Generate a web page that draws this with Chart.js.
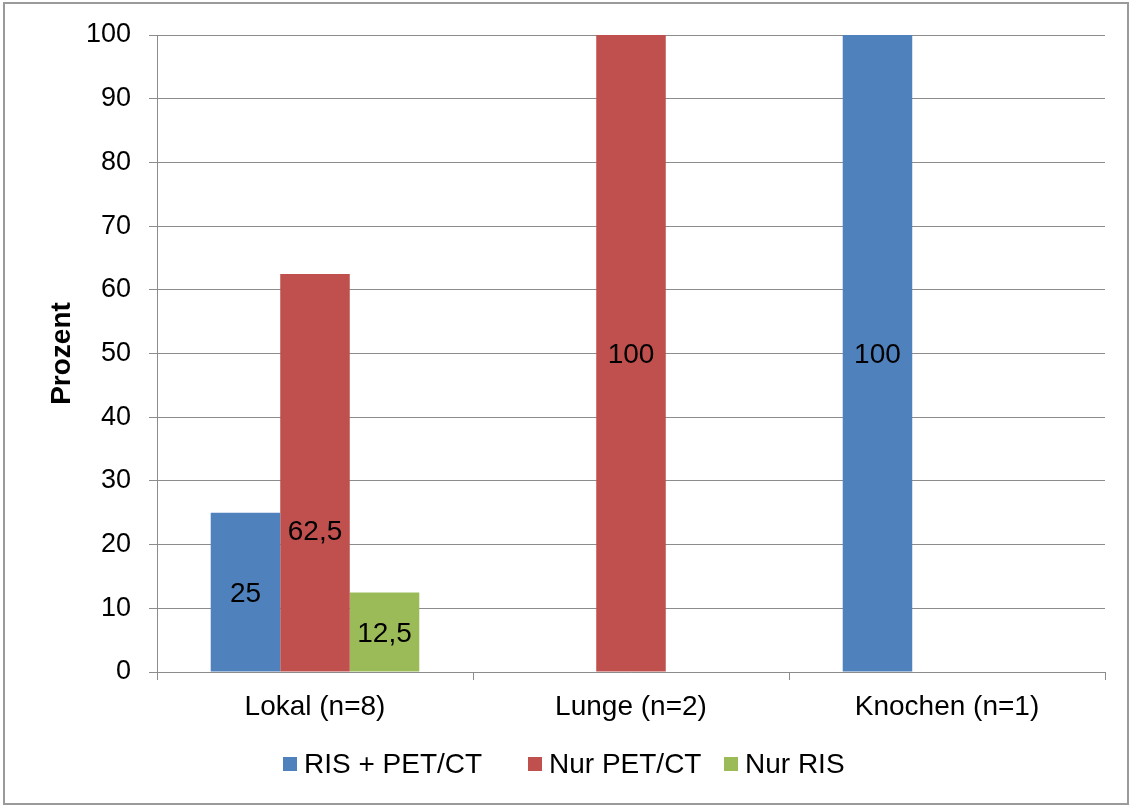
<!DOCTYPE html>
<html>
<head>
<meta charset="utf-8">
<script src="https://cdn.jsdelivr.net/npm/chart.js@4/dist/chart.umd.min.js"></script>
<style>
  html, body { margin: 0; padding: 0; background: #fff; }
  #wrap { width: 1131px; height: 807px; position: relative; }
</style>
</head>
<body>
<div id="wrap"><canvas id="c" width="1131" height="807"></canvas></div>
<script>
// Categories (Lokalisation mit Fallzahl)
const categories = ['Lokal (n=8)', 'Lunge (n=2)', 'Knochen (n=1)'];

// Anteile in Prozent je Nachweisverfahren
const risPetCt = [25, null, 100];
const nurPetCt = [62.5, 100, null];
const nurRis   = [12.5, null, null];

const seriesNames = ['RIS + PET/CT', 'Nur PET/CT', 'Nur RIS'];
const seriesColors = ['#4F81BD', '#C0504D', '#9BBB59'];

// Y-axis ticks 0..100
const yTicks = [0, 10, 20, 30, 40, 50, 60, 70, 80, 90, 100];

const FONT = '"Liberation Sans", Arial, sans-serif';
const GRID = '#8c8c8c';

// Value labels drawn inside the bars
const barLabels = {
  id: 'barLabels',
  afterDatasetsDraw(chart, args, opts) {
    const ctx = chart.ctx;
    const y = chart.scales.y;
    ctx.save();
    ctx.font = '28px ' + FONT;
    ctx.fillStyle = '#000';
    ctx.textAlign = 'center';
    ctx.textBaseline = 'middle';
    chart.data.datasets.forEach((ds, di) => {
      const meta = chart.getDatasetMeta(di);
      meta.data.forEach((bar, i) => {
        const v = ds.data[i];
        if (v === null || v === undefined) return;
        const key = di + ':' + i;
        const anchor = (opts.anchorAt && opts.anchorAt[key] !== undefined) ? opts.anchorAt[key] : v / 2;
        ctx.fillText(v.toLocaleString('de-DE'), bar.x, y.getPixelForValue(anchor) + 2);
      });
    });
    ctx.restore();
  }
};

// Legend row under the axis and outer frame
const frameAndLegend = {
  id: 'frameAndLegend',
  afterDraw(chart, args, opts) {
    const ctx = chart.ctx;
    ctx.save();
    ctx.strokeStyle = '#9a9a9a';
    ctx.lineWidth = 2;
    ctx.strokeRect(4, 3, 1124, 801);

    ctx.font = '28px ' + FONT;
    ctx.textBaseline = 'middle';
    ctx.textAlign = 'left';
    const cy = opts.centerY;
    chart.data.datasets.forEach((ds, i) => {
      const x = opts.itemX[i];
      ctx.fillStyle = ds.backgroundColor;
      ctx.fillRect(x, cy - 7, 14, 14);
      ctx.fillStyle = '#000';
      ctx.fillText(ds.label, x + 21, cy + 1);
    });
    ctx.restore();
  }
};

const datasets = [risPetCt, nurPetCt, nurRis].map((d, i) => ({
  label: seriesNames[i],
  data: d,
  backgroundColor: seriesColors[i],
  borderWidth: 0,
  barPercentage: 1.0,
  categoryPercentage: 0.66
}));

new Chart(document.getElementById('c'), {
  type: 'bar',
  data: { labels: categories, datasets },
  options: {
    responsive: false,
    animation: false,
    devicePixelRatio: 1,
    layout: { padding: { left: 10, right: 26, top: 35, bottom: 65 } },
    plugins: {
      legend: { display: false },
      tooltip: { enabled: false },
      barLabels: { anchorAt: { '1:0': 22.3 } },
      frameAndLegend: { centerY: 764, itemX: [283, 528, 724] }
    },
    scales: {
      x: {
        grid: {
          display: true,
          drawOnChartArea: false,
          drawTicks: true,
          tickLength: 8,
          color: GRID,
          offset: true
        },
        border: { display: true, color: GRID, width: 1 },
        ticks: {
          font: { family: FONT, size: 28 },
          color: '#000',
          padding: 10,
          maxRotation: 0
        },
        afterFit(scale) { scale.height = 70; }
      },
      y: {
        min: 0,
        max: 100,
        afterBuildTicks(scale) { scale.ticks = yTicks.map(v => ({ value: v })); },
        grid: {
          color: GRID,
          lineWidth: 1,
          drawTicks: true,
          tickLength: 8
        },
        border: { display: true, color: GRID, width: 1 },
        ticks: {
          font: { family: FONT, size: 27 },
          color: '#000',
          padding: 18
        },
        title: {
          display: true,
          text: 'Prozent',
          font: { family: FONT, size: 28, weight: 'bold' },
          color: '#000',
          padding: { top: 35, bottom: 0 }
        },
        afterFit(scale) { scale.width = 147; }
      }
    }
  },
  plugins: [barLabels, frameAndLegend]
});
</script>
</body>
</html>
